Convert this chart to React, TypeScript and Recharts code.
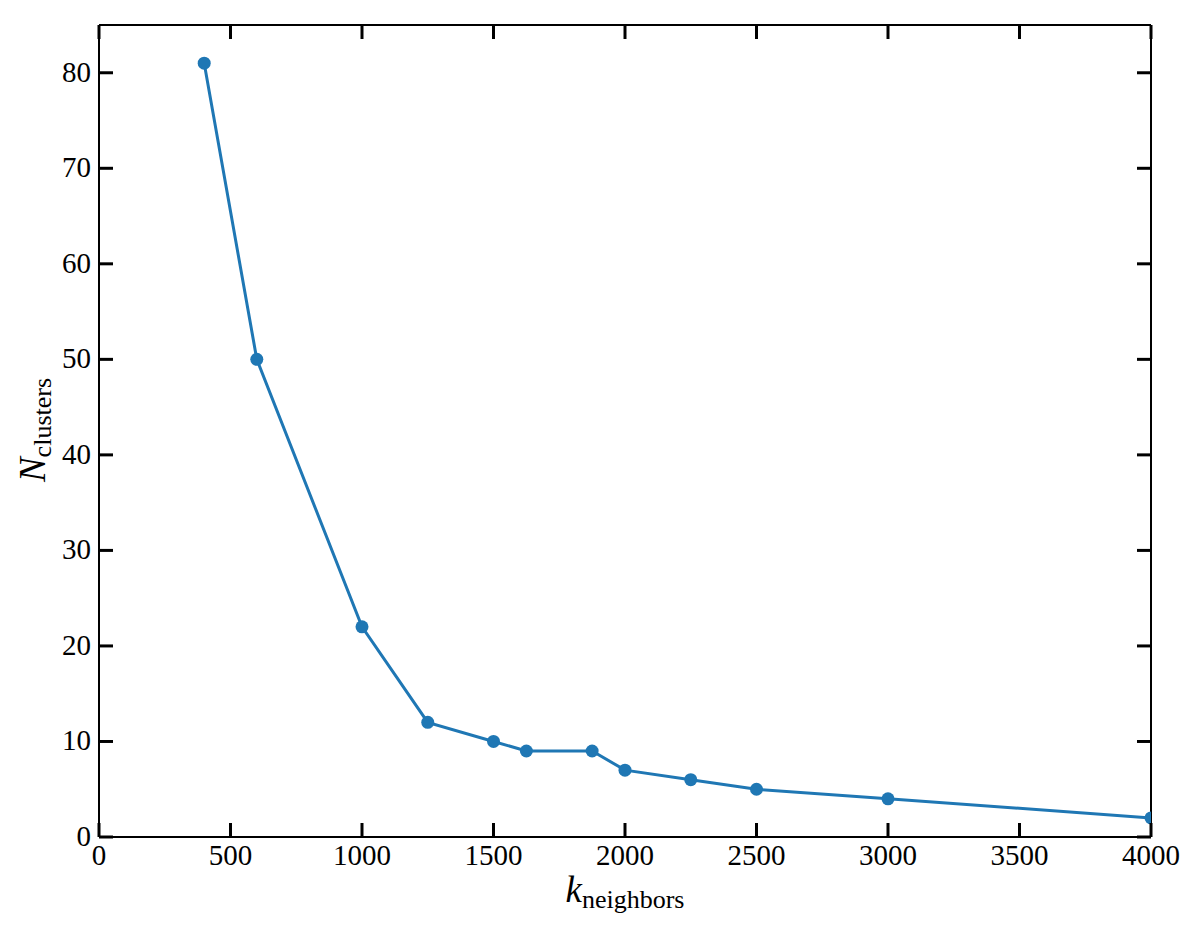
import React from 'react';
import { LineChart, Line, XAxis, YAxis } from 'recharts';

const kNeighbors = [400, 600, 1000, 1250, 1500, 1625, 1875, 2000, 2250, 2500, 3000, 4000];
const nClusters = [81, 50, 22, 12, 10, 9, 9, 7, 6, 5, 4, 2];
const xTicks = [0, 500, 1000, 1500, 2000, 2500, 3000, 3500, 4000];
const yTicks = [0, 10, 20, 30, 40, 50, 60, 70, 80];

const data = kNeighbors.map((k, i) => ({ k, n: nClusters[i] }));

const FONT = "'Liberation Serif', 'DejaVu Serif', serif";
const TICK_LEN = 14;
const TICK_W = 3;
const LABEL_SIZE = 29;
const BLUE = '#1f77b4';

const BottomTick = (props: any) => {
  const { x, y, payload } = props;
  return (
    <g>
      <line x1={x} x2={x} y1={y} y2={y - TICK_LEN} stroke="#000" strokeWidth={TICK_W} />
      <text x={x} y={y + 28} textAnchor="middle" fontFamily={FONT} fontSize={LABEL_SIZE} fill="#000">
        {payload.value}
      </text>
    </g>
  );
};

const TopTick = (props: any) => {
  const { x, y } = props;
  return <line x1={x} x2={x} y1={y} y2={y + TICK_LEN} stroke="#000" strokeWidth={TICK_W} />;
};

const LeftTick = (props: any) => {
  const { x, y, payload } = props;
  return (
    <g>
      <line x1={x} x2={x + TICK_LEN} y1={y} y2={y} stroke="#000" strokeWidth={TICK_W} />
      <text x={x - 8} y={y + 9} textAnchor="end" fontFamily={FONT} fontSize={LABEL_SIZE} fill="#000">
        {payload.value}
      </text>
    </g>
  );
};

const RightTick = (props: any) => {
  const { x, y } = props;
  return <line x1={x} x2={x - TICK_LEN} y1={y} y2={y} stroke="#000" strokeWidth={TICK_W} />;
};

const XLabel = (props: any) => {
  const vb = props.viewBox || {};
  const cx = (vb.x ?? 99) + (vb.width ?? 1052) / 2;
  const by = (vb.y ?? 837) + 65;
  return (
    <text x={cx} y={by} textAnchor="middle" fontFamily={FONT} fill="#000">
      <tspan fontStyle="italic" fontSize={37}>k</tspan>
      <tspan fontSize={26} dy={6}>neighbors</tspan>
    </text>
  );
};

const YLabel = () => {
  const cy = 430;
  const bx = 45;
  return (
    <text x={bx} y={cy} transform={`rotate(-90, ${bx}, ${cy})`} textAnchor="middle" fontFamily={FONT} fill="#000">
      <tspan fontStyle="italic" fontSize={37}>N</tspan>
      <tspan fontSize={26} dy={6}>clusters</tspan>
    </text>
  );
};

export default function App() {
  return (
    <div style={{ position: 'absolute', left: 0, top: 0, width: 1200, height: 938, background: '#fff' }}>
      <LineChart
        width={1200}
        height={938}
        data={data}
        margin={{ top: 24, right: 48, bottom: 100, left: 98 }}
      >
        <XAxis
          dataKey="k"
          type="number"
          domain={[0, 4000]}
          ticks={xTicks}
          allowDataOverflow
          height={1}
          tickSize={0}
          tickMargin={0}
          tickLine={false}
          axisLine={{ stroke: '#000', strokeWidth: 2 }}
          tick={<BottomTick />}
          interval={0}
          label={<XLabel />}
        />
        <XAxis
          xAxisId="top"
          orientation="top"
          dataKey="k"
          type="number"
          domain={[0, 4000]}
          ticks={xTicks}
          allowDataOverflow
          height={1}
          tickSize={0}
          tickMargin={0}
          tickLine={false}
          axisLine={{ stroke: '#000', strokeWidth: 2 }}
          tick={<TopTick />}
          interval={0}
        />
        <YAxis
          type="number"
          domain={[0, 85]}
          ticks={yTicks}
          allowDataOverflow
          width={1}
          tickSize={0}
          tickMargin={0}
          tickLine={false}
          axisLine={{ stroke: '#000', strokeWidth: 2 }}
          tick={<LeftTick />}
          interval={0}
          label={<YLabel />}
        />
        <YAxis
          yAxisId="right"
          orientation="right"
          type="number"
          domain={[0, 85]}
          ticks={yTicks}
          allowDataOverflow
          width={1}
          tickSize={0}
          tickMargin={0}
          tickLine={false}
          axisLine={{ stroke: '#000', strokeWidth: 2 }}
          tick={<RightTick />}
          interval={0}
        />
        <Line
          dataKey="n"
          type="linear"
          stroke={BLUE}
          strokeWidth={3}
          dot={{ r: 6.5, fill: BLUE, stroke: 'none' }}
          activeDot={false}
          isAnimationActive={false}
        />
      </LineChart>
    </div>
  );
}
